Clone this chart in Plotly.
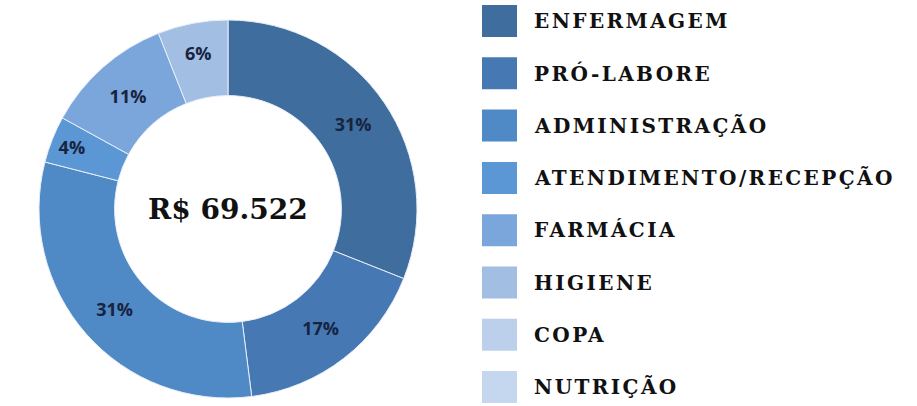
import plotly.graph_objects as go

categories = ["ENFERMAGEM", "PRÓ-LABORE", "ADMINISTRAÇÃO", "ATENDIMENTO/RECEPÇÃO",
              "FARMÁCIA", "HIGIENE", "COPA", "NUTRIÇÃO"]
shares = [31, 17, 31, 4, 11, 6, 0, 0]
colors = ["#3f6d9e", "#4679b4", "#4f89c6", "#5b97d4", "#7aa6db", "#a2bee3", "#bcd0ec", "#c5d7ef"]
total_label = "R$ 69.522"

pie_labels = [c for c, v in zip(categories, shares) if v > 0]
pie_values = [v for v in shares if v > 0]
pie_colors = [col for col, v in zip(colors, shares) if v > 0]

W, H = 917, 406
cx, cy, r = 228, 209, 189

fig = go.Figure()
fig.add_trace(go.Pie(
    labels=pie_labels, values=pie_values, hole=0.6, sort=False, direction="clockwise",
    rotation=0,
    marker=dict(colors=pie_colors, line=dict(color="#e8eef7", width=1)),
    texttemplate="%{percent:.0%}", textposition="inside", insidetextorientation="horizontal",
    textfont=dict(family="Open Sans", size=18, color="#17233f", weight="bold"),
    showlegend=False,
    domain=dict(x=[(cx - r - 5) / W, (cx + r + 5) / W], y=[(H - cy - r) / H, (H - cy + r) / H]),
))

fig.add_annotation(x=cx / W, y=(H - cy) / H, xref="paper", yref="paper", text=total_label,
                   xanchor="center", yanchor="middle", showarrow=False,
                   font=dict(family="DejaVu Serif", size=28, color="#111111", weight="bold"))

# legend drawn from the category list
for i, (cat, col) in enumerate(zip(categories, colors)):
    yc = 21 + 52.3 * i
    fig.add_shape(type="rect", xref="paper", yref="paper",
                  x0=482 / W, x1=517 / W, y0=(H - yc - 16) / H, y1=(H - yc + 16) / H,
                  fillcolor=col, line=dict(width=0))
    fig.add_annotation(x=532 / W, y=(H - yc) / H, xref="paper", yref="paper", xanchor="left",
                       yanchor="middle", showarrow=False,
                       text='<span style="letter-spacing:2.4px">' + cat + '</span>',
                       font=dict(family="DejaVu Serif", size=20, color="#111111", weight="bold"))

fig.update_layout(width=W, height=H, margin=dict(l=0, r=0, t=0, b=0),
                  paper_bgcolor="white", plot_bgcolor="white")
fig.write_html("out.html", config={"displayModeBar": False},
               post_script="document.body.style.margin='0';document.body.style.overflow='hidden';")
